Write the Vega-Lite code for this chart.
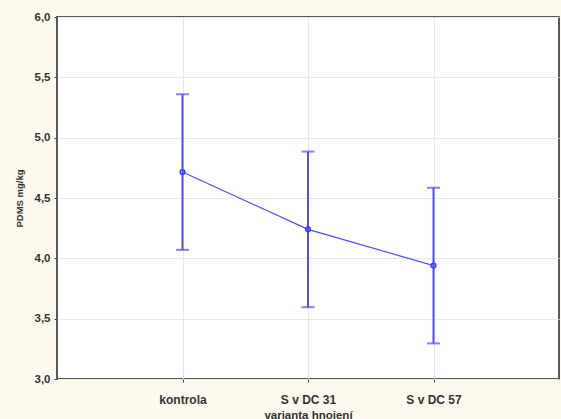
{
  "$schema": "https://vega.github.io/schema/vega-lite/v6.json",
  "autosize": {"type": "none"},
  "padding": {"left": 57, "top": 17, "right": 2, "bottom": 40},
  "width": 502,
  "height": 362,
  "background": "#fdf9ec",
  "config": {
    "font": "Liberation Sans",
    "view": {"fill": "#ffffff", "stroke": "#5a5a5a", "strokeWidth": 2},
    "axis": {
      "labelFont": "Liberation Sans",
      "titleFont": "Liberation Sans",
      "labelFontWeight": "bold",
      "titleFontWeight": "bold",
      "labelColor": "#333333",
      "titleColor": "#333333",
      "gridColor": "#e8e8e8",
      "gridWidth": 1,
      "domain": false,
      "tickColor": "#444444",
      "tickSize": 3
    }
  },
  "data": {
    "values": [
      {"varianta": "kontrola", "mean": 4.715, "lower": 4.07, "upper": 5.36},
      {"varianta": "S v DC 31", "mean": 4.24, "lower": 3.595, "upper": 4.885},
      {"varianta": "S v DC 57", "mean": 3.94, "lower": 3.295, "upper": 4.585}
    ]
  },
  "encoding": {
    "x": {
      "field": "varianta",
      "type": "nominal",
      "sort": null,
      "scale": {"type": "point", "padding": 1},
      "axis": {
        "title": "varianta hnojení",
        "labelAngle": 0,
        "labelFontSize": 12,
        "labelPadding": 12,
        "titleFontSize": 11.5,
        "titlePadding": 4,
        "grid": true
      }
    }
  },
  "layer": [
    {
      "mark": {"type": "rule", "color": "#4d4dff", "strokeWidth": 2},
      "encoding": {
        "y": {
          "field": "lower",
          "type": "quantitative",
          "scale": {"domain": [3, 6], "nice": false, "zero": false},
          "axis": {
            "title": "PDMS  mg/kg",
            "values": [3, 3.5, 4, 4.5, 5, 5.5, 6],
            "labelExpr": "replace(format(datum.value, '.1f'), '.', ',')",
            "labelFontSize": 11.5,
            "labelPadding": 4,
            "titleFontSize": 9.5,
            "titlePadding": 10,
            "grid": true
          }
        },
        "y2": {"field": "upper"}
      }
    },
    {
      "mark": {"type": "tick", "color": "#4d4dff", "orient": "horizontal", "size": 13, "thickness": 2},
      "encoding": {"y": {"field": "upper", "type": "quantitative"}}
    },
    {
      "mark": {"type": "tick", "color": "#4d4dff", "orient": "horizontal", "size": 13, "thickness": 2},
      "encoding": {"y": {"field": "lower", "type": "quantitative"}}
    },
    {
      "mark": {"type": "line", "color": "#4d4dff", "strokeWidth": 1.2},
      "encoding": {"y": {"field": "mean", "type": "quantitative"}}
    },
    {
      "mark": {"type": "point", "shape": "circle", "filled": false, "color": "#3a3aff", "size": 22, "strokeWidth": 1.5, "opacity": 1},
      "encoding": {"y": {"field": "mean", "type": "quantitative"}}
    }
  ]
}
